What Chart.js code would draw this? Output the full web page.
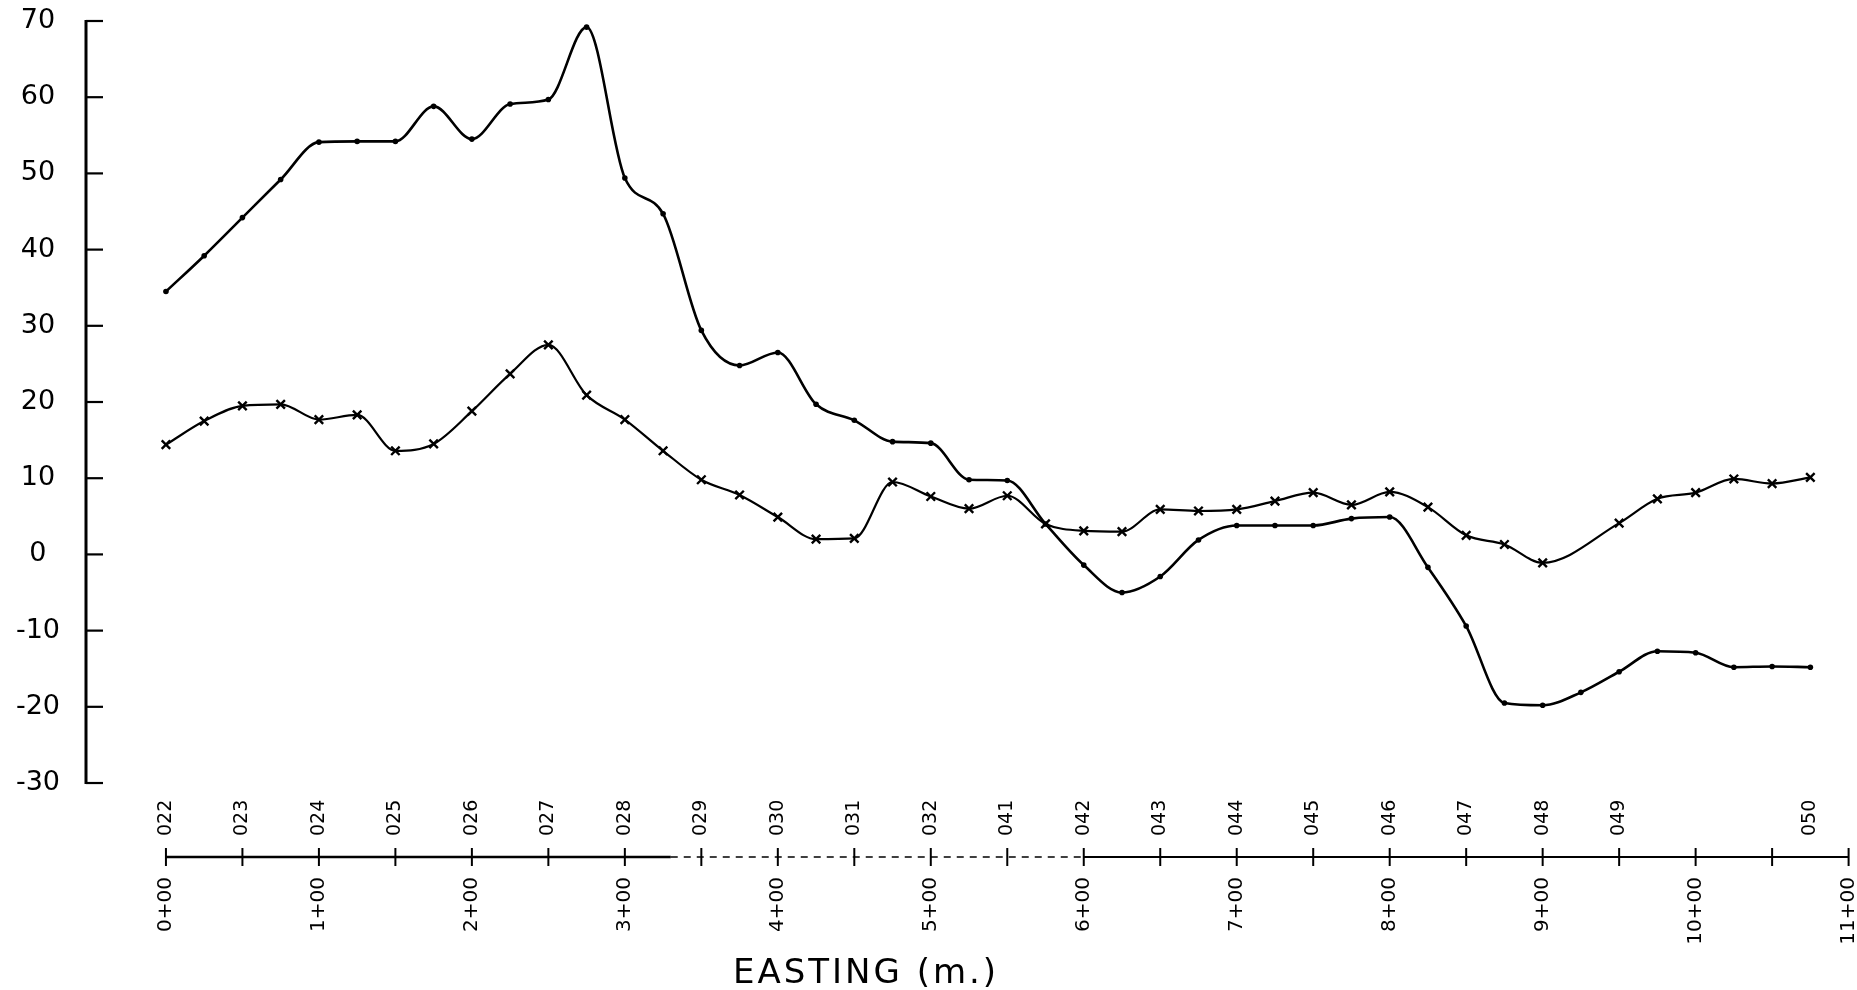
<!DOCTYPE html>
<html>
<head>
<meta charset="utf-8">
<title>Easting profile</title>
<script src="https://cdn.jsdelivr.net/npm/chart.js@4.4.1/dist/chart.umd.min.js"></script>
<style>
  html, body { margin: 0; padding: 0; background: #ffffff; }
  #wrap { width: 1857px; height: 990px; }
</style>
</head>
<body>
<div id="wrap"><canvas id="profile" width="1857" height="990"></canvas></div>
<script>
// Station positions along the line (m) for the dotted-point profile
const upperEasting = [0, 25, 50, 75, 100, 125, 150, 175, 200, 225, 250, 275, 300, 325, 350, 375, 400, 425, 450, 475, 500, 525, 550, 575, 600, 625, 650, 675, 700, 725, 750, 775, 800, 825, 850, 875, 900, 925, 950, 975, 1000, 1025, 1050, 1075];
const upperReadings = [34.5, 39.2, 44.2, 49.2, 54.1, 54.2, 54.2, 58.8, 54.5, 59.1, 59.7, 69.2, 49.4, 44.7, 29.4, 24.8, 26.5, 19.7, 17.6, 14.8, 14.6, 9.8, 9.7, 4.0, -1.4, -5.0, -2.9, 1.9, 3.8, 3.8, 3.8, 4.7, 4.9, -1.7, -9.4, -19.5, -19.8, -18.1, -15.4, -12.7, -12.9, -14.8, -14.7, -14.8];

// Station positions (m) for the cross-marked profile (no reading at 925 m)
const lowerEasting = [0, 25, 50, 75, 100, 125, 150, 175, 200, 225, 250, 275, 300, 325, 350, 375, 400, 425, 450, 475, 500, 525, 550, 575, 600, 625, 650, 675, 700, 725, 750, 775, 800, 825, 850, 875, 900, 950, 975, 1000, 1025, 1050, 1075];
const lowerReadings = [14.4, 17.5, 19.5, 19.7, 17.7, 18.3, 13.6, 14.5, 18.8, 23.7, 27.5, 20.9, 17.7, 13.6, 9.8, 7.8, 4.9, 2.0, 2.1, 9.5, 7.6, 6.0, 7.7, 4.0, 3.1, 3.0, 5.9, 5.7, 5.9, 7.0, 8.1, 6.5, 8.2, 6.2, 2.5, 1.3, -1.1, 4.1, 7.3, 8.1, 9.9, 9.3, 10.1];

// Vertical axis ticks
const yTickValues = [-30, -20, -10, 0, 10, 20, 30, 40, 50, 60, 70];

// Tick marks along the easting line and the chainage labels beneath it
const axisTickEasting = [0, 50, 100, 150, 200, 250, 300, 350, 400, 450, 500, 550, 600, 650, 700, 750, 800, 850, 900, 950, 1000, 1050, 1100];
const chainageEasting = [0, 100, 200, 300, 400, 500, 600, 700, 800, 900, 1000, 1100];
const chainageLabels = ['0+00', '1+00', '2+00', '3+00', '4+00', '5+00', '6+00', '7+00', '8+00', '9+00', '10+00', '11+00'];

// Station numbers written above the easting line
const stationEasting = [0, 50, 100, 150, 200, 250, 300, 350, 400, 450, 500, 550, 600, 650, 700, 750, 800, 850, 900, 950, 1075];
const stationNames = ['022', '023', '024', '025', '026', '027', '028', '029', '030', '031', '032', '041', '042', '043', '044', '045', '046', '047', '048', '049', '050'];

const pairs = (xs, ys) => xs.map((e, i) => ({ x: e, y: ys[i] }));

// Hand-ruled axes: vertical scale with inward ticks, easting line with crossing ticks
const ruledAxes = {
  id: 'ruledAxes',
  beforeDatasetsDraw(chart) {
    const { ctx, chartArea, scales } = chart;
    const xs = scales.x, ys = scales.y;
    ctx.save();
    ctx.strokeStyle = '#000';
    ctx.fillStyle = '#000';

    // vertical axis
    const ax = chartArea.left;
    const yTop = ys.getPixelForValue(yTickValues[yTickValues.length - 1]);
    const yBot = ys.getPixelForValue(yTickValues[0]);
    ctx.lineWidth = 3;
    ctx.beginPath();
    ctx.moveTo(ax, yTop - 1);
    ctx.lineTo(ax, yBot + 1);
    ctx.stroke();
    ctx.lineWidth = 2.2;
    yTickValues.forEach(v => {
      const py = ys.getPixelForValue(v);
      ctx.beginPath();
      ctx.moveTo(ax, py);
      ctx.lineTo(ax + 17, py);
      ctx.stroke();
    });

    // easting line: solid, a dashed stretch, then solid again
    const by = chartArea.bottom - 1;
    const seg = (a, b, w, dash) => {
      ctx.lineWidth = w;
      ctx.setLineDash(dash);
      ctx.beginPath();
      ctx.moveTo(xs.getPixelForValue(a), by);
      ctx.lineTo(xs.getPixelForValue(b), by);
      ctx.stroke();
    };
    seg(0, 330, 2.6, []);
    seg(330, 600, 1.5, [7, 6]);
    seg(600, 1100, 2.2, []);
    ctx.setLineDash([]);

    ctx.lineWidth = 2;
    axisTickEasting.forEach(e => {
      const px = xs.getPixelForValue(e);
      ctx.beginPath();
      ctx.moveTo(px, by - 9);
      ctx.lineTo(px, by + 9);
      ctx.stroke();
    });

    // station numbers
    ctx.font = '19px "DejaVu Sans"';
    ctx.textAlign = 'left';
    ctx.textBaseline = 'middle';
    stationEasting.forEach((e, i) => {
      ctx.save();
      ctx.translate(xs.getPixelForValue(e), by - 21);
      ctx.rotate(-Math.PI / 2);
      ctx.fillText(stationNames[i], 0, 0);
      ctx.restore();
    });

    // axis title
    ctx.font = '34px "DejaVu Sans"';
    ctx.letterSpacing = '3px';
    ctx.textAlign = 'center';
    ctx.textBaseline = 'alphabetic';
    ctx.fillText('EASTING (m.)', 866, 983);
    ctx.restore();
  }
};

new Chart(document.getElementById('profile'), {
  type: 'line',
  data: {
    datasets: [
      {
        data: pairs(upperEasting, upperReadings),
        borderColor: '#000',
        backgroundColor: '#000',
        borderWidth: 2.6,
        pointStyle: 'circle',
        pointRadius: 2.8,
        pointBorderWidth: 0,
        cubicInterpolationMode: 'monotone',
        fill: false
      },
      {
        data: pairs(lowerEasting, lowerReadings),
        borderColor: '#000',
        backgroundColor: '#000',
        borderWidth: 2.2,
        pointStyle: 'crossRot',
        pointRadius: 6,
        pointBorderWidth: 2.4,
        cubicInterpolationMode: 'monotone',
        fill: false
      }
    ]
  },
  options: {
    responsive: false,
    animation: false,
    events: [],
    layout: { padding: { top: 21, right: 7, left: 0, bottom: 0 } },
    plugins: { legend: { display: false }, tooltip: { enabled: false } },
    scales: {
      x: {
        type: 'linear',
        position: 'bottom',
        min: -52.26,
        max: 1100,
        grid: { display: false, drawTicks: false },
        border: { display: false },
        afterBuildTicks: s => { s.ticks = axisTickEasting.map(v => ({ value: v })); },
        afterFit: s => { s.height = 132; s.paddingLeft = 0; s.paddingRight = 0; s.paddingTop = 0; s.paddingBottom = 0; },
        ticks: {
          autoSkip: false,
          minRotation: 90,
          maxRotation: 90,
          padding: 19,
          color: '#000',
          font: { family: 'DejaVu Sans', size: 20 },
          callback: v => {
            const i = chainageEasting.indexOf(v);
            return i >= 0 ? chainageLabels[i] : '';
          }
        }
      },
      y: {
        type: 'linear',
        min: -39.84,
        max: 70,
        grid: { display: false, drawTicks: false },
        border: { display: false },
        afterBuildTicks: s => { s.ticks = yTickValues.map(v => ({ value: v })); },
        afterFit: s => { s.width = 86; s.paddingTop = 0; s.paddingBottom = 0; s.paddingLeft = 0; s.paddingRight = 0; },
        ticks: {
          padding: 26,
          crossAlign: 'center',
          color: '#000',
          font: { family: 'DejaVu Sans', size: 27 }
        }
      }
    }
  },
  plugins: [ruledAxes]
});
</script>
</body>
</html>
